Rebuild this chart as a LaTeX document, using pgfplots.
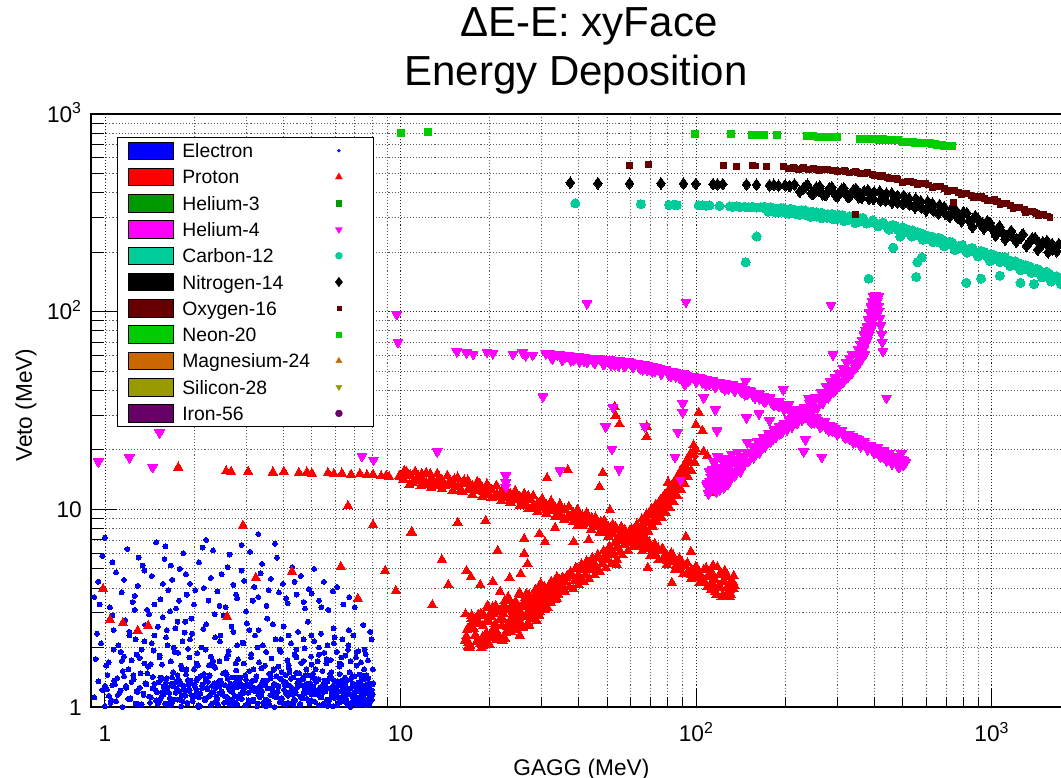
\documentclass[border=0pt]{standalone}
\usepackage{fontspec}
\setmainfont{Liberation Sans}
\usepackage{pgfplots}
\pgfplotsset{compat=1.18}
\usetikzlibrary{plotmarks}
\definecolor{cEle}{RGB}{0,0,255}
\definecolor{cPro}{RGB}{255,0,0}
\definecolor{cHeT}{RGB}{0,153,0}
\definecolor{cHeF}{RGB}{255,0,255}
\definecolor{cC}{RGB}{0,204,153}
\definecolor{cN}{RGB}{0,0,0}
\definecolor{cO}{RGB}{102,0,0}
\definecolor{cNe}{RGB}{0,204,0}
\definecolor{cMg}{RGB}{204,102,0}
\definecolor{cSi}{RGB}{153,153,0}
\definecolor{cFe}{RGB}{102,0,102}
\newcommand{\legmark}[4]{%
  \addlegendimage{legend image code/.code={%
    \draw[black,line width=0.6pt,fill=#1] (0pt,-6.6pt) rectangle (33.75pt,6.6pt);
    \begin{scope}[overlay,shift={(158.25pt,0pt)},rotate=#4]
      \pgfsetfillcolor{#1}\pgfsetstrokecolor{#1}\pgfsetlinewidth{0.3pt}%
      \pgfsetplotmarksize{#3}\pgfuseplotmark{#2}%
    \end{scope}}}}
\begin{document}
\begin{tikzpicture}
\useasboundingbox (0pt,0pt) rectangle (795.75pt,583.5pt);
\node[anchor=base,font=\fontsize{31.5}{36}\selectfont,inner sep=0pt] at (441.75pt,555.75pt) {ΔE-E: xyFace};
\node[anchor=base,font=\fontsize{31.5}{36}\selectfont,inner sep=0pt] at (432pt,519pt) {Energy Deposition};
\begin{axis}[
 at={(68.25pt,53.25pt)}, anchor=south west,
 scale only axis, width=729.75pt, height=444.75pt,
 xmode=log, ymode=log,
 xmin=0.897, xmax=1755, ymin=1, ymax=1000,
 xtick={1,10,100,1000}, xticklabels={1,10,10\textsuperscript{2},10\textsuperscript{3}},
 ytick={1,10,100,1000}, yticklabels={1,10,10\textsuperscript{2},10\textsuperscript{3}},
 minor xtick={2,3,4,5,6,7,8,9,20,30,40,50,60,70,80,90,200,300,400,500,600,700,800,900},
 minor ytick={2,3,4,5,6,7,8,9,20,30,40,50,60,70,80,90,200,300,400,500,600,700,800,900},
 tick pos=left, tick align=inside,
 major tick length=14.25pt, minor tick length=7.5pt,
 every major y tick/.append style={/pgfplots/major tick length=20pt},
 every minor y tick/.append style={/pgfplots/minor tick length=9.75pt},
 grid=both,
 major grid style={black!85, dash pattern=on 0.8pt off 1.5pt, line width=0.6pt},
 minor grid style={black!65, dash pattern=on 0.8pt off 1.5pt, line width=0.6pt},
 axis line style={black, line width=0.8pt},
 tick style={black, line width=0.7pt},
 ticklabel style={font=\fontsize{17}{20}\selectfont},
 xticklabel style={inner sep=0pt, text height=12.2pt, text depth=0pt, anchor=north, yshift=-13.5pt},
 yticklabel style={inner sep=0pt, text height=12.2pt, text depth=0pt, anchor=east, xshift=-6.75pt},
 xlabel={GAGG (MeV)}, ylabel={Veto (MeV)},
 label style={font=\fontsize{17}{20}\selectfont},
 xlabel style={at={(axis description cs:0.504,-0.1147)}, anchor=base},
 ylabel style={at={(axis description cs:-0.0668,0.509)}, anchor=center},
 legend cell align=left,
 legend style={at={(axis description cs:0.0267,0.9612)}, anchor=north west,
   draw=black, line width=0.8pt, fill=white,
   inner xsep=7.5pt, inner ysep=3pt, row sep=5.9pt, column sep=6.75pt,
   font=\fontsize{14.5}{17}\selectfont,
   nodes={inner xsep=0pt, inner ysep=0pt, text height=11.85pt, text depth=1.45pt}},
]
\legmark{cEle}{*}{1.1pt}{0}\addlegendentry{\makebox[135.75pt][l]{Electron}}
\legmark{cPro}{triangle*}{3pt}{0}\addlegendentry{\makebox[135.75pt][l]{Proton}}
\legmark{cHeT}{square*}{2pt}{0}\addlegendentry{\makebox[135.75pt][l]{Helium-3}}
\legmark{cHeF}{triangle*}{3pt}{180}\addlegendentry{\makebox[135.75pt][l]{Helium-4}}
\legmark{cC}{*}{2.6pt}{0}\addlegendentry{\makebox[135.75pt][l]{Carbon-12}}
\legmark{cN}{diamond*}{3.6pt}{0}\addlegendentry{\makebox[135.75pt][l]{Nitrogen-14}}
\legmark{cO}{square*}{1.6pt}{0}\addlegendentry{\makebox[135.75pt][l]{Oxygen-16}}
\legmark{cNe}{square*}{2pt}{0}\addlegendentry{\makebox[135.75pt][l]{Neon-20}}
\legmark{cMg}{triangle*}{2.6pt}{0}\addlegendentry{\makebox[135.75pt][l]{Magnesium-24}}
\legmark{cSi}{triangle*}{2.6pt}{180}\addlegendentry{\makebox[135.75pt][l]{Silicon-28}}
\legmark{cFe}{*}{2.6pt}{0}\addlegendentry{\makebox[135.75pt][l]{Iron-56}}

% Electron
\addplot[forget plot, only marks, mark=*, mark size=1.85pt, mark options={draw=cEle, fill=cEle, line width=0pt}] coordinates {
(0.92,1.12) (0.95,1.35) (0.98,1.22) (1.02,1.45) (1.05,1.08) (1.08,1.30) (1.12,1.18) (1.15,1.52) (1.18,1.25) (1.22,1.10) (1.25,1.38) (1.28,1.20) (1.32,1.48) (1.35,1.15) (1.38,1.30) (1.42,1.05) (1.45,1.42) (1.48,1.22) (1.52,1.33) (1.55,1.12) (1.58,1.27) (1.62,1.40) (1.65,1.18) (1.68,1.31) (1.72,1.09) (1.75,1.24) (1.78,1.37) (1.82,1.15) (1.85,1.28) (1.88,1.46) (1.92,1.21) (1.95,1.33) (1.98,1.11) (2.02,1.26) (2.06,1.39) (2.10,1.17) (2.14,1.30) (2.18,1.08) (2.22,1.23) (2.26,1.44) (2.30,1.19) (2.34,1.32) (2.38,1.13) (2.42,1.27) (2.46,1.36) (2.50,1.16) (2.55,1.29) (2.60,1.06) (2.65,1.21) (2.70,1.41) (2.75,1.14) (2.80,1.26) (2.85,1.34) (2.90,1.10) (2.95,1.23) (3.00,1.38) (3.05,1.18) (3.10,1.30) (3.15,1.07) (3.20,1.25) (3.25,1.43) (3.30,1.15) (3.35,1.28) (3.40,1.20) (3.45,1.35) (3.50,1.09) (3.56,1.24) (3.62,1.47) (3.68,1.17) (3.74,1.31) (3.80,1.12) (3.86,1.26) (3.92,1.39) (3.98,1.05) (4.04,1.22) (4.10,1.33) (4.16,1.14) (4.22,1.28) (4.28,1.19) (4.34,1.41) (4.40,1.08) (4.46,1.25) (4.52,1.36) (4.58,1.13) (4.64,1.29) (4.70,1.18) (4.76,1.45) (4.82,1.10) (4.88,1.23) (4.94,1.32) (5.00,1.16) (5.07,1.27) (5.14,1.06) (5.21,1.21) (5.28,1.38) (5.35,1.12) (5.42,1.26) (5.49,1.19) (5.56,1.33) (5.63,1.09) (5.70,1.24) (5.77,1.42) (5.84,1.15) (5.91,1.28) (5.98,1.11) (6.05,1.22) (6.12,1.35) (6.19,1.07) (6.26,1.20) (6.33,1.30) (6.40,1.14) (6.47,1.26) (6.54,1.10) (6.61,1.37) (6.68,1.17) (6.75,1.24) (6.82,1.05) (6.89,1.31) (6.96,1.19) (7.03,1.12) (7.10,1.27) (7.17,1.21) (7.24,1.08) (7.31,1.34) (7.38,1.16) (7.45,1.23) (7.52,1.11) (7.59,1.29) (7.66,1.18) (7.73,1.06) (7.80,1.25) (7.87,1.14) (7.94,1.20) (8.00,1.09) (8.05,1.30)
(1.00,1.28) (1.10,1.40) (1.20,1.55) (1.30,1.03) (1.40,1.60) (1.50,1.19) (1.60,1.04) (1.70,1.50) (1.80,1.32) (1.90,1.04) (2.00,1.55) (2.08,1.12) (2.20,1.36) (2.28,1.02) (2.36,1.58) (2.48,1.20) (2.58,1.46) (2.68,1.03) (2.78,1.53) (2.88,1.31) (2.98,1.02) (3.08,1.52) (3.18,1.36) (3.28,1.04) (3.38,1.57) (3.48,1.29) (3.60,1.02) (3.72,1.54) (3.84,1.19) (3.96,1.50) (4.08,1.03) (4.20,1.56) (4.32,1.16) (4.44,1.49) (4.56,1.03) (4.68,1.38) (4.80,1.55) (4.92,1.04) (5.05,1.47) (5.18,1.34) (5.31,1.02) (5.44,1.52) (5.57,1.20) (5.70,1.04) (5.83,1.50) (5.96,1.36) (6.09,1.02) (6.22,1.47) (6.35,1.22) (6.48,1.41) (6.61,1.03) (6.74,1.50) (6.87,1.13) (7.00,1.43) (7.13,1.03) (7.26,1.46) (7.39,1.28) (7.52,1.38) (7.65,1.02) (7.78,1.40) (7.91,1.31) (8.04,1.16)
(1.51,1.04) (1.56,1.19) (1.61,1.33) (1.66,1.11) (1.71,1.27) (1.76,1.45) (1.81,1.08) (1.86,1.22) (1.91,1.37) (1.96,1.15) (2.01,1.30) (2.07,1.02) (2.13,1.24) (2.19,1.40) (2.25,1.13) (2.31,1.28) (2.37,1.06) (2.43,1.35) (2.49,1.17) (2.56,1.50) (2.63,1.04) (2.70,1.19) (2.77,1.33) (2.84,1.11) (2.91,1.27) (2.98,1.45) (3.06,1.08) (3.14,1.22) (3.22,1.37) (3.30,1.15) (3.38,1.30) (3.46,1.02) (3.55,1.24) (3.64,1.40) (3.73,1.13) (3.82,1.28) (3.91,1.06) (4.01,1.35) (4.11,1.17) (4.21,1.50) (4.31,1.04) (4.42,1.19) (4.53,1.33) (4.64,1.11) (4.75,1.27) (4.86,1.45) (4.98,1.08) (5.10,1.22) (5.22,1.37) (5.34,1.15) (5.47,1.30) (5.60,1.02) (5.73,1.24) (5.86,1.40) (6.00,1.13) (6.14,1.28) (6.28,1.06) (6.42,1.35) (6.57,1.17) (6.72,1.50) (6.87,1.04) (7.02,1.19) (7.18,1.33) (7.34,1.11) (7.50,1.27) (7.66,1.45) (7.82,1.08) (7.98,1.22)
(1.535,1.09) (1.585,1.26) (1.635,1.03) (1.685,1.41) (1.735,1.18) (1.785,1.31) (1.835,1.07) (1.885,1.55) (1.935,1.21) (1.985,1.12) (2.04,1.36) (2.10,1.01) (2.16,1.47) (2.22,1.25) (2.28,1.16) (2.34,1.60) (2.40,1.10) (2.46,1.29) (2.53,1.05) (2.60,1.39) (2.66,1.09) (2.73,1.26) (2.80,1.03) (2.87,1.41) (2.94,1.18) (3.02,1.31) (3.10,1.07) (3.18,1.55) (3.26,1.21) (3.34,1.12) (3.42,1.36) (3.50,1.01) (3.59,1.47) (3.68,1.25) (3.77,1.16) (3.86,1.60) (3.96,1.10) (4.06,1.29) (4.16,1.05) (4.26,1.39) (4.36,1.09) (4.47,1.26) (4.58,1.03) (4.69,1.41) (4.80,1.18) (4.92,1.31) (5.04,1.07) (5.16,1.55) (5.28,1.21) (5.40,1.12) (5.53,1.36) (5.66,1.01) (5.79,1.47) (5.93,1.25) (6.07,1.16) (6.21,1.60) (6.35,1.10) (6.50,1.29) (6.64,1.05) (6.80,1.39) (6.95,1.09) (7.10,1.26) (7.26,1.03) (7.42,1.41) (7.58,1.18) (7.74,1.31) (7.90,1.07) (8.06,1.55)
(1.00,1.01) (1.03,1.14) (1.06,1.29) (1.09,1.07) (1.13,1.21) (1.16,1.43) (1.20,1.10) (1.23,1.34) (1.27,1.04) (1.31,1.25) (1.35,1.17) (1.39,1.48) (1.43,1.12) (1.47,1.31) (1.52,1.06) (1.56,1.39) (1.61,1.19) (1.66,1.02) (1.71,1.27) (1.76,1.09) (1.81,1.01) (1.87,1.14) (1.92,1.29) (1.98,1.07) (2.04,1.21) (2.10,1.43) (2.17,1.10) (2.23,1.34) (2.30,1.04) (2.37,1.25) (2.44,1.17) (2.51,1.48) (2.59,1.12) (2.66,1.31) (2.74,1.06) (2.83,1.39) (2.91,1.19) (3.00,1.02) (3.09,1.27) (3.18,1.09) (3.28,1.01) (3.38,1.14) (3.48,1.29) (3.58,1.07) (3.69,1.21) (3.80,1.43) (3.91,1.10) (4.03,1.34) (4.15,1.04) (4.28,1.25) (4.40,1.17) (4.54,1.48) (4.67,1.12) (4.81,1.31) (4.96,1.06) (5.11,1.39) (5.26,1.19) (5.42,1.02) (5.58,1.27) (5.75,1.09) (5.92,1.01) (6.10,1.14) (6.28,1.29) (6.47,1.07) (6.66,1.21) (6.86,1.43) (7.07,1.10) (7.28,1.34) (7.50,1.04) (7.72,1.25) (7.95,1.17)
(1.015,1.23) (1.045,1.05) (1.075,1.36) (1.105,1.15) (1.147,1.00) (1.177,1.28) (1.218,1.11) (1.248,1.45) (1.289,1.19) (1.33,1.03) (1.37,1.32) (1.41,1.13) (1.45,1.24) (1.49,1.08) (1.54,1.41) (1.58,1.16) (1.63,1.26) (1.68,1.04) (1.74,1.35) (1.79,1.20) (1.84,1.23) (1.90,1.05) (1.95,1.36) (2.01,1.15) (2.07,1.00) (2.13,1.28) (2.20,1.11) (2.26,1.45) (2.33,1.19) (2.41,1.03) (2.48,1.32) (2.55,1.13) (2.63,1.24) (2.70,1.08) (2.78,1.41) (2.87,1.16) (2.95,1.26) (3.05,1.04) (3.14,1.35) (3.23,1.20) (3.33,1.23) (3.43,1.05) (3.53,1.36) (3.63,1.15) (3.75,1.00) (3.86,1.28) (3.97,1.11) (4.09,1.45) (4.21,1.19) (4.34,1.03) (4.47,1.32) (4.61,1.13) (4.74,1.24) (4.88,1.08) (5.03,1.41) (5.19,1.16) (5.34,1.26) (5.50,1.04) (5.66,1.35) (5.84,1.20) (6.01,1.23) (6.19,1.05) (6.37,1.36) (6.57,1.15) (6.76,1.00) (6.96,1.28) (7.18,1.11) (7.39,1.45) (7.61,1.19) (7.84,1.03) (8.07,1.32)
(1.01,1.62) (1.07,1.95) (1.14,1.71) (1.21,2.30) (1.28,1.84) (1.36,1.66) (1.44,2.10) (1.53,1.78) (1.62,2.45) (1.72,1.90) (1.82,1.55) (1.94,2.20) (2.06,1.62) (2.19,1.95) (2.32,1.71) (2.46,2.30) (2.61,1.84) (2.77,1.66) (2.94,2.10) (3.12,1.78) (3.31,2.45) (3.51,1.90) (3.72,1.55) (3.94,2.20) (4.18,1.62) (4.44,1.95) (4.70,1.71) (4.99,2.30) (5.29,1.84) (5.61,1.66) (5.95,2.10) (6.31,1.78) (6.69,2.45) (7.10,1.90) (7.53,1.55) (7.98,2.20)
(0.93,1.75) (0.97,2.10) (1.03,1.68) (1.07,2.45) (1.13,1.90) (1.17,2.75) (1.23,1.72) (1.27,2.20) (1.33,1.95) (1.37,2.60) (1.43,1.65) (1.47,2.30) (1.53,1.82) (1.57,2.85) (1.63,2.05) (1.67,1.70) (1.73,2.50) (1.77,1.88) (1.83,2.15) (1.87,2.70) (1.93,1.78) (1.97,2.35) (2.04,1.66) (2.12,2.00) (2.20,2.62) (2.28,1.80) (2.36,2.25) (2.44,1.70) (2.52,2.90) (2.62,1.92) (2.72,2.40) (2.82,1.74) (2.92,2.12) (3.02,2.65) (3.12,1.85) (3.22,2.30) (3.32,1.68) (3.42,2.05) (3.54,2.80) (3.66,1.76) (3.78,2.20) (3.90,1.95) (4.02,2.55) (4.14,1.72) (4.26,2.10) (4.38,1.84) (4.50,2.40) (4.62,1.67) (4.74,1.98) (4.86,2.70) (4.98,1.80) (5.10,2.15) (5.24,1.70) (5.38,2.35) (5.52,1.88) (5.66,2.05) (5.80,1.73) (5.94,2.50) (6.08,1.90) (6.22,1.66) (6.36,2.20) (6.50,1.82) (6.64,1.95) (6.78,1.70) (6.92,2.30) (7.06,1.78) (7.20,1.92) (7.34,1.68) (7.48,2.60) (7.62,1.85) (7.76,1.72) (7.90,2.40)
(0.94,2.35) (1.01,1.62) (1.06,2.90) (1.11,2.05) (1.16,1.80) (1.21,2.40) (1.26,3.10) (1.31,1.77) (1.36,2.15) (1.41,2.95) (1.46,1.93) (1.51,2.55) (1.56,1.64) (1.61,2.25) (1.66,3.05) (1.71,2.00) (1.76,2.70) (1.81,1.62) (1.86,2.38) (1.91,1.97) (1.96,2.80) (2.05,1.87) (2.15,2.48) (2.25,1.63) (2.35,2.95) (2.45,2.15) (2.58,1.76) (2.68,2.55) (2.80,2.05) (2.95,1.66) (3.08,2.45) (3.28,2.00) (3.48,1.62) (3.70,2.62) (3.94,1.90) (4.18,2.30) (4.44,1.78) (4.70,2.20) (5.00,1.64) (5.30,2.00) (5.62,1.75) (5.98,2.25) (6.30,1.64) (6.66,2.05) (7.10,1.62) (7.56,1.95)
(0.92,3.60) (0.95,4.30) (0.98,5.80) (1.00,7.20) (1.04,3.20) (1.09,4.80) (1.14,3.80) (1.19,6.30) (1.24,3.40) (1.29,4.10) (1.34,5.20) (1.39,3.10) (1.44,4.60) (1.49,6.80) (1.54,3.50) (1.59,5.60) (1.64,3.90) (1.69,4.40) (1.74,3.15) (1.79,5.00) (1.84,6.00) (1.89,3.70) (1.94,4.20) (2.00,3.30) (2.08,5.40) (2.16,4.00) (2.24,3.45) (2.32,6.20) (2.40,3.85) (2.48,4.70) (2.56,3.20) (2.64,5.90) (2.72,4.15) (2.80,3.55) (2.90,4.90) (3.00,3.05) (3.10,6.10) (3.20,4.05) (3.30,3.60) (3.40,5.30) (3.52,3.25) (3.64,4.45) (3.76,6.70) (3.88,3.80) (4.00,4.20) (4.15,3.35) (4.30,5.10) (4.45,3.70) (4.60,4.60) (4.75,3.15) (4.90,3.95) (5.10,5.00) (5.30,3.45) (5.50,4.30) (5.70,3.10) (5.90,3.85) (6.10,4.05) (6.40,3.30) (6.70,3.60) (7.00,3.20) (2.20,7.00) (1.60,6.50) (2.90,6.60) (3.30,7.50) (1.30,5.70)
(0.96,3.30) (1.06,5.40) (1.16,4.40) (1.26,3.65) (1.36,4.90) (1.47,3.30) (1.57,4.20) (1.67,5.20) (1.78,3.45) (1.88,4.70) (2.02,3.90) (2.14,6.40) (2.28,4.50) (2.44,3.25) (2.60,5.10) (2.78,3.70) (2.96,4.35) (3.16,3.45) (3.36,4.75) (3.58,3.90) (3.82,5.70) (4.10,3.55) (4.38,4.30) (4.70,3.40) (5.00,3.75) (5.40,3.20)
};
% Proton
\addplot[forget plot, only marks, mark=triangle*, mark size=4.1pt, mark options={draw=cPro, fill=cPro, line width=0pt}] coordinates {
(0.985,3.96) (1.04,2.76) (1.15,2.66) (1.29,2.43) (1.40,2.57) (2.59,2.86) (2.93,8.27) (3.24,4.50) (4.29,4.83) (6.28,5.12) (6.64,10.4) (7.17,3.53) (8.07,8.35) (8.87,4.88) (9.64,3.87) (10.9,7.7) (2.25,27.5)
(1.77,16.3) (2.57,15.6) (2.67,15.5) (3.05,15.5) (3.70,15.4) (4.03,15.5) (4.53,15.3) (4.82,15.4) (5.01,15.2) (5.68,15.3) (5.95,15.1) (6.33,15.2) (6.80,15.0) (7.29,15.1) (7.70,14.9) (8.07,15.0) (8.59,14.7) (8.93,14.8) (9.14,14.6) (9.88,14.7)
(10.9,7.6) (13.8,5.56) (14.5,4.15) (15.6,8.56) (16.7,4.88) (17.3,4.55) (18.6,4.15) (19.4,8.76) (20.5,4.30) (21.3,6.17) (21.7,3.83) (23.4,4.50) (25.5,4.71) (26.2,7.10) (26.2,5.96) (26.9,5.30) (29.5,7.53) (30.8,6.85) (31.3,14.4) (33.3,8.07) (36.8,15.8) (38.5,6.85) (39.7,8.25) (43.3,7.0) (47.1,13.0) (48.3,15.3) (51.1,9.9) (53.9,5.24) (53.4,29.8) (53,33) (55,27) (68,23.3) (68,26.3) (68.6,5.06) (80.3,13.7) (82.8,4.25) (92.3,7.27) (96.0,6.1) (98.2,19.8) (99.8,26.8) (102,30.9) (105,25.0) (106,19.6) (109,18.7) (111,12.1) (117,3.7) (12.8,3.28)
(10.0,14.6) (10.5,15.4) (11.0,13.7) (11.5,14.7) (12.0,13.8) (12.6,15.1) (13.2,13.1) (13.8,14.1) (14.5,13.4) (15.2,14.2) (16.0,12.6) (16.8,13.5) (17.6,12.5) (18.5,13.5) (19.4,11.8) (20.3,12.6) (21.3,11.8) (22.3,12.5) (23.4,11.1) (24.5,11.8) (25.7,11.0) (27.0,11.7) (28.3,10.1) (29.7,10.7) (31.1,10.0) (32.6,10.6) (34.2,9.4) (35.9,10.0) (37.6,9.2) (39.4,9.8) (41.3,8.5) (43.3,8.9) (45.4,8.25) (47.6,8.65) (49.9,7.6) (52.3,8.0) (54.8,7.4) (57.4,7.85) (60.2,6.75) (63.1,7.1) (66.1,6.5) (69.3,6.8) (72.6,5.9) (76.1,6.2) (79.7,5.5) (83.5,5.85) (87.5,4.95) (91.7,5.2) (96.1,4.65) (100.7,5.05) (105.5,4.25) (110.5,4.7) (115.8,4.0) (121.3,4.65) (127.0,3.75) (133.0,4.3)
(10.2,14.1) (10.8,14.9) (11.3,14.3) (11.8,15.1) (12.3,13.3) (12.9,14.0) (13.5,14.5) (14.1,13.2) (14.8,13.7) (15.6,13.0) (16.4,14.0) (17.2,12.9) (18.0,13.0) (19.0,12.2) (19.9,13.0) (20.8,11.6) (21.8,12.0) (22.9,12.3) (24.0,11.3) (25.1,11.5) (26.4,10.6) (27.6,11.2) (29.0,10.5) (30.4,11.0) (31.8,9.8) (33.4,10.1) (35.0,10.2) (36.7,9.1) (38.5,9.4) (40.4,9.2) (42.3,8.6) (44.4,9.0) (46.5,8.2) (48.7,8.3) (51.1,7.6) (53.5,8.1) (56.1,7.35) (58.8,7.35) (61.6,7.4) (64.6,6.55) (67.7,6.7) (70.9,6.15) (74.3,6.35) (77.9,5.75) (81.6,5.75) (85.5,5.2) (89.6,5.4) (93.9,4.85) (98.4,4.95) (103.1,4.5) (108.0,5.05) (113.1,4.3) (118.5,4.0) (124.1,4.35) (130.0,3.9) (135.0,4.1) (125,4.9) (118,5.1) (128,4.55) (112,3.9) (131,3.7) (122,3.6) (114,5.2)
(10.3,15.7) (11.2,15.5) (12.2,15.3) (13.3,15.1) (14.4,14.8) (15.6,14.5) (16.9,14.0) (18.2,13.8) (19.6,13.4) (21.1,13.2) (22.7,12.8) (24.4,12.4) (26.2,12.0) (28.1,11.7) (30.1,11.3) (32.3,11.0) (34.6,10.6) (37.1,10.3) (39.8,9.9) (42.6,9.6) (45.6,9.1) (48.8,8.75) (52.2,8.4) (55.8,8.15) (59.6,7.8) (63.6,7.45) (67.9,7.05) (72.4,6.7) (77.2,6.3) (82.3,6.0) (87.7,5.65) (93.4,5.35) (99.5,5.1) (106,4.95) (113,4.8) (120,4.7) (127,4.65) (134,4.6)
(10.7,13.3) (11.7,13.1) (12.7,12.9) (13.8,12.7) (15.0,12.4) (16.2,12.2) (17.5,11.9) (18.9,11.6) (20.3,11.4) (21.9,11.0) (23.5,10.8) (25.3,10.4) (27.1,10.1) (29.1,9.75) (31.2,9.5) (33.4,9.2) (35.8,8.9) (38.4,8.65) (41.2,8.3) (44.1,7.9) (47.2,7.65) (50.5,7.3) (54.0,7.1) (57.7,6.8) (61.6,6.5) (65.7,6.15) (70.1,5.85) (74.7,5.55) (79.6,5.25) (84.8,4.95) (90.3,4.7) (96.2,4.45) (102.5,4.25) (109,4.05) (116,3.85) (123,3.7) (130,3.6)
(10.7,14.75) (11.7,14.55) (12.7,14.35) (13.8,14.1) (15.0,13.8) (16.2,13.5) (17.5,13.15) (18.9,12.85) (20.3,12.6) (21.9,12.25) (23.5,11.95) (25.3,11.6) (27.1,11.2) (29.1,10.8) (31.2,10.5) (33.4,10.2) (35.8,9.9) (38.4,9.6) (41.2,9.25) (44.1,8.75) (47.2,8.45) (50.5,8.1) (54.0,7.85) (57.7,7.55) (61.6,7.2) (65.7,6.85) (70.1,6.5) (74.7,6.15) (79.6,5.8) (84.8,5.5) (90.3,5.2) (96.2,4.95) (102.5,4.75) (109,4.55) (116,4.4) (123,4.3) (130,4.2)
(10.3,14.05) (11.2,13.9) (12.2,13.7) (13.3,13.55) (14.4,13.3) (15.6,13.0) (16.9,12.6) (18.2,12.35) (19.6,12.1) (21.1,11.85) (22.7,11.5) (24.4,11.15) (26.2,10.8) (28.1,10.5) (30.1,10.15) (32.3,9.85) (34.6,9.55) (37.1,9.25) (39.8,8.9) (42.6,8.6) (45.6,8.2) (48.8,7.85) (52.2,7.55) (55.8,7.3) (59.6,7.0) (63.6,6.7) (67.9,6.35) (72.4,6.0) (77.2,5.65) (82.3,5.4) (87.7,5.1) (93.4,4.8) (99.5,4.58) (106,4.4) (113,4.2) (120,4.1) (127,4.0) (134,3.95)
(16.5,2.16) (16.8,2.47) (17.2,2.04) (17.5,2.69) (17.9,2.32) (18.3,2.93) (18.6,2.08) (19.0,2.57) (19.3,2.30) (19.7,3.26) (20.0,2.07) (20.3,2.86) (20.7,2.50) (21.0,3.12) (21.4,2.32) (21.8,2.81) (22.1,2.17) (22.5,3.44) (22.9,2.59) (23.3,3.10) (23.7,2.39) (24.1,2.94) (24.5,3.42) (24.9,2.63) (25.3,2.30) (25.7,3.22) (26.1,2.86) (26.6,3.73) (27.0,2.67) (27.5,3.28) (27.9,2.93) (28.4,3.73) (28.9,2.73) (29.4,3.35) (29.9,3.82) (30.4,3.14) (30.9,3.74) (31.5,3.16) (32.0,4.07) (32.6,3.58) (33.2,3.96) (33.8,3.53) (34.4,4.32) (35.0,3.87) (35.6,4.36)
(16.7,2.28) (17.0,2.12) (17.4,2.91) (17.7,2.48) (18.1,2.15) (18.4,2.65) (18.8,2.0) (19.2,2.90) (19.5,2.37) (19.9,2.72) (20.2,2.24) (20.5,3.20) (20.9,2.64) (21.2,2.20) (21.6,3.06) (22.0,2.57) (22.3,2.95) (22.7,2.38) (23.1,3.60) (23.5,2.77) (23.9,3.26) (24.3,2.54) (24.7,3.08) (25.1,2.82) (25.5,3.71) (25.9,2.54) (26.3,3.39) (26.8,2.99) (27.2,3.68) (27.7,2.79) (28.1,3.40) (28.6,3.10) (29.1,3.97) (29.6,3.03) (30.1,3.54) (30.6,4.04) (31.2,3.41) (31.7,3.73) (32.3,3.36) (32.9,4.26) (33.5,3.80) (34.1,3.68) (34.7,4.12) (35.3,4.52) (35.9,3.85)
(16.6,2.95) (17.1,2.0) (17.6,2.70) (18.2,2.15) (18.7,2.96) (19.3,2.10) (19.8,2.71) (20.4,2.43) (21.0,3.25) (21.7,2.19) (22.3,3.22) (23.0,2.46) (23.7,3.19) (24.4,2.66) (25.2,3.76) (26.0,2.52) (26.8,3.23) (27.6,3.07) (28.5,3.90) (29.4,2.91) (30.3,3.82) (31.3,3.36) (32.3,4.30) (33.3,3.47) (34.4,4.40) (35.5,3.85) (36.6,4.62)
(16.9,2.02) (17.4,2.80) (17.9,2.30) (18.5,2.65) (19.0,2.03) (19.6,3.16) (20.1,2.34) (20.7,2.97) (21.4,2.27) (22.0,2.84) (22.6,2.21) (23.3,3.44) (24.0,2.87) (24.8,3.30) (25.6,2.64) (26.4,3.58) (27.2,2.59) (28.0,3.52) (28.9,3.13) (29.8,4.22) (30.8,3.12) (31.8,3.89) (32.8,3.50) (33.8,4.55) (34.9,3.90) (36.0,4.28)
(17.3,2.55) (18.0,2.80) (18.9,2.25) (19.5,2.70) (20.2,3.00) (20.9,2.35) (21.6,2.75) (22.4,3.30) (23.2,2.65) (24.0,3.05) (24.8,2.45) (25.7,2.95) (26.6,3.45) (27.4,2.85) (28.3,3.15) (29.2,3.60) (30.1,3.25) (31.0,3.95) (32.0,3.50) (33.0,4.05) (34.0,3.75) (35.0,4.20) (19.0,2.20) (21.0,2.45) (23.0,2.55) (25.0,2.75) (27.0,3.0) (29.0,3.15) (31.0,3.40) (33.0,3.65) (22.0,3.05) (24.0,3.30) (26.0,3.35) (28.0,3.55) (30.0,3.70) (32.0,3.90)
(36.5,4.52) (37.2,4.05) (38.0,4.62) (38.8,4.36) (39.6,5.0) (40.4,4.45) (41.3,4.93) (42.2,4.68) (43.1,5.37) (44.0,4.95) (45.0,5.41) (46.0,4.98) (47.0,5.67) (48.1,5.32) (49.2,5.85) (50.3,5.53) (51.5,6.34) (52.7,5.95) (53.9,6.42) (55.1,6.07) (56.3,6.96) (57.5,6.6) (58.7,7.25) (59.9,6.78) (61.0,7.52) (62.2,7.2) (63.4,8.09) (64.6,7.68) (65.8,8.39) (67.0,7.98) (68.2,8.99) (69.4,8.52) (70.6,9.39) (71.8,8.89) (73.0,10.1) (74.2,9.54) (75.4,10.4) (76.6,9.98) (77.8,11.1) (79.0,10.6) (80.2,11.6) (81.4,11.2) (82.6,12.6) (83.8,11.9) (85.0,13.3) (86.2,12.9) (87.4,14.2) (88.6,13.6) (89.8,15.3) (91.0,14.8) (92.2,16.4) (93.4,15.9) (94.6,17.3) (95.8,17.3) (97.0,18.9) (98.2,19.0) (99.4,20.3)
(40.0,4.68) (42.7,5.03) (45.5,5.2) (48.6,5.6) (51.0,5.9) (54.5,6.38) (58.1,6.88) (61.6,7.4) (65.2,8.03) (68.8,8.76) (72.4,9.48) (76.0,10.25) (79.6,11.1) (83.2,12.2) (86.8,13.55) (90.4,15.0)
(37.6,4.83) (39.2,5.06) (40.9,5.27) (42.6,5.46) (44.5,5.67) (46.5,5.89) (48.6,6.16) (50.8,6.47) (53.1,6.80) (55.5,7.16) (58.0,7.57) (60.5,7.95) (63.0,8.39) (65.5,8.91) (68.0,9.46) (70.5,10.0) (73.0,10.56) (75.5,11.1) (78.0,11.8) (80.5,12.5) (83.0,13.3) (85.5,14.3) (88.0,15.4) (90.5,16.5) (93.0,17.8) (95.5,19.1) (98.0,21.1)
(38.4,3.95) (40.0,4.14) (41.7,4.31) (43.4,4.46) (45.3,4.64) (47.3,4.82) (49.4,5.04) (51.6,5.29) (53.9,5.56) (56.3,5.86) (58.8,6.19) (61.3,6.51) (63.8,6.87) (66.3,7.29) (68.8,7.74) (71.3,8.19) (73.8,8.64) (76.3,9.09) (78.8,9.65) (81.3,10.2) (83.8,10.9) (86.3,11.7) (88.8,12.6) (91.3,13.5) (93.8,14.6) (96.3,15.7) (98.8,17.3)
};
% Helium-4
\addplot[forget plot, only marks, mark=triangle*, mark size=4.2pt, mark options={rotate=180, draw=cHeF, fill=cHeF, line width=0pt}] coordinates {
(0.95,17.4) (1.21,18.3) (1.45,16.3) (1.53,24.4) (7.4,18.6) (8.1,17.8) (9.7,97) (9.8,70) (13.3,19.6) (22.7,14.8) (22.7,13.7) (22.7,13.0) (30.3,37.2) (34.6,15.7) (42.7,110) (49.4,26.2) (52.3,32.8) (51.9,20.2) (54.8,15.9) (67,26.2) (84.8,18.4) (86.6,24.6) (88.6,14.1) (90,34.3) (90,30.9) (91.5,42.7) (92.3,112) (106,36.7) (116,31.9) (117.6,25.0) (147,44.4) (148,29.1) (149,21.8) (163,30.5) (177,28.1) (197,40.3) (234,22.5) (231,19.6) (240,36.6) (266,18.4) (286,108) (290,60.6) (440,36.6) (413,106)
(15.5,62.9) (16.7,62) (17.6,61) (19.6,62.5) (20.5,61.5) (24.0,61) (25.9,62) (28.0,60.5) (26.5,60)
(31,61.5) (32.5,58.3) (34,60.5) (35.5,57.8) (37,59.7) (38.5,57.0) (40,59.5) (41.7,56.5) (43.4,58.4) (45,55.6) (47,57.8) (49,54.6) (51,57.2) (53,53.8) (55,56.6) (57,53.2) (59,55.8) (61,52.3) (63.5,54.6) (66,51.0) (68.5,53.5) (71,49.7) (73.5,52.2) (76,48.6) (79,51.0) (82,47.2) (85,49.6) (88,46.0) (91,48.5) (94,44.8) (97,47.2) (100,44.0) (104,46.0) (108,42.6) (112,44.8) (116,41.4) (120,43.9) (125,40.4) (130,42.7) (135,39.6) (140,41.3) (146,38.1) (152,39.9) (158,36.6) (164,38.4) (170,35.0) (177,37.0) (184,33.6) (191,35.2) (198,32.0) (205,33.8) (213,30.3) (221,32.0) (229,28.7) (237,30.5) (245,27.4) (254,29.1) (263,26.0) (272,27.8) (281,25.0) (290,26.4) (300,23.9) (310,25.2) (320,22.9) (330,24.0) (340,21.8) (350,23.0) (360,20.8) (370,22.1) (380,20.0) (390,21.1) (400,19.2) (410,20.5) (420,18.4) (430,19.8) (440,17.6) (450,19.2) (460,17.0) (470,18.6) (480,16.6) (490,18.0) (500,16.8) (505,17.8) (495,19.2) (485,16.3) (510,17.2)
(33,59.6) (36,58.9) (39,58.1) (42,57.4) (46,56.8) (52,55.8) (58,54.6) (64,52.8) (70,51.2) (77,49.8) (86,48.1) (95,46.4) (105,44.8) (118,43.0) (132,41.5) (150,38.9) (168,36.3) (188,34.0) (209,31.5) (233,29.3) (258,27.6) (285,25.6) (315,23.8) (345,22.2) (375,20.9) (405,19.7) (435,18.6) (465,17.8)
(32,61.3) (34.5,60.7) (37,60.0) (39.5,59.3) (42,58.8) (44.5,58.3) (47.5,57.7) (50.5,57.1) (53.5,56.7) (56.5,56.2) (60,55.6) (63.5,54.8) (67,53.9) (71,52.9) (75,52.0) (79,51.0) (83.5,50.0) (88,48.8) (93,47.9) (98,47.3) (103,46.6) (108.5,45.6) (114,44.8) (120,44.0) (126,43.3) (132.5,42.7) (139,41.8) (146,40.7) (153,39.7) (161,38.5) (169,37.5) (177,36.4) (186,35.2) (195,34.1) (204,33.2) (214,32.2) (224,31.2) (235,30.1) (246,29.3) (258,28.3) (270,27.4) (283,26.6) (296,25.8) (310,24.9) (324,24.1) (339,23.3) (354,22.6) (370,21.7) (386,21.1) (403,20.5) (420,19.8) (438,19.2) (456,18.5) (475,18.1) (494,17.9)
(32.6,57.7) (35.2,57.1) (37.7,56.6) (40.3,55.9) (42.8,55.4) (45.4,54.9) (48.5,54.3) (51.5,53.7) (54.6,53.4) (57.6,53.0) (61.2,52.4) (64.8,51.6) (68.3,50.7) (72.4,49.9) (76.5,49.0) (80.6,48.0) (85.2,47.0) (89.8,46.0) (94.9,45.1) (100,44.5) (105,43.8) (110.7,43.0) (116,42.2) (122,41.4) (128.5,40.7) (135,40.3) (142,39.4) (149,38.3) (156,37.3) (164,36.3) (172,35.3) (181,34.2) (190,33.2) (199,32.1) (208,31.2) (218,30.4) (228,29.4) (240,28.3) (251,27.5) (263,26.7) (275,25.8) (289,25.0) (302,24.3) (316,23.5) (330,22.7) (346,21.9) (361,21.2) (377,20.5) (394,19.9) (411,19.3) (428,18.6) (447,18.0) (465,17.5) (485,17.1) (504,16.9)
(112,12.5) (113,13.8) (114,15.2) (116,12.9) (118,14.5) (119,16.3) (121,13.6) (123,15.5) (125,14.2) (127,16.6) (129,15.0) (131,17.3) (133,15.6) (136,16.9) (139,18.0) (142,16.8) (145,18.6) (148,17.5) (152,19.4) (156,18.8) (160,20.6) (164,20.0) (168,22.0) (172,21.4) (177,23.5) (182,22.8) (187,24.9) (192,24.2) (197,26.5) (203,25.9) (209,28.3) (215,27.6) (221,30.0) (227,29.3) (233,31.9) (240,31.1) (247,33.8) (254,33.0) (261,36.0) (268,35.2) (275,38.5) (282,37.6) (289,41.2) (296,40.4) (303,44.2) (310,43.4) (317,47.5) (323,46.8) (329,50.8) (335,50.2) (341,55.0) (347,54.3) (352,59.5) (357,58.8) (362,64.5) (366,63.6) (370,70.0) (374,69.2) (378,76.0) (381,75.0) (384,82.0) (387,81.0) (390,89.0) (393,95.0) (396,102) (399,108) (402,115) (405,121)
(110,12.0) (111,13.2) (112,14.6) (113,16.0) (115,17.2) (117,12.3) (120,12.6) (122,17.8) (124,12.9) (126,18.2) (128,13.4) (130,14.0) (115,14.0) (119,14.9) (125,15.8) (132,19.0) (135,14.8) (138,19.5) (141,15.5) (109,13.5) (111,15.5) (114,17.5) (118,18.5)
(119.7,13.3) (122.9,13.8) (128.1,14.6) (133.4,15.4) (138.6,16.1) (143.9,16.6) (150.2,17.5) (156.5,18.3) (163.8,19.4) (171.2,20.8) (178.5,22.0) (185.9,23.2) (194.3,24.3) (202.7,25.3) (211,26.2) (219.5,27.3) (227.9,28.4) (236.3,29.4) (246.8,31.0) (257.3,32.7) (267.8,34.5) (279.3,36.8) (291.9,39.3) (304.5,41.9) (315,44.2) (325.5,46.5) (336,49.0) (346.5,52.0) (357,55.2) (365.4,58.4) (372.8,61.0) (368.2,64.5) (374.3,68.5) (379.4,72.0) (384.5,76.5) (389.6,80.5) (393.7,84) (397.8,91) (401.9,99) (406,106) (410,113) (414,119)
(108.3,13.3) (111.2,13.8) (115.9,14.6) (120.7,15.4) (125.4,16.1) (130.2,16.6) (135.9,17.5) (141.6,18.3) (148.2,19.4) (154.9,20.8) (161.5,22.0) (168.2,23.2) (175.8,24.3) (183.4,25.3) (191,26.2) (198.6,27.3) (206.2,28.4) (213.8,29.4) (223.3,31.0) (232.8,32.7) (242.3,34.5) (252.7,36.8) (264.1,39.3) (275.5,41.9) (285,44.2) (294.5,46.5) (304,49.0) (313.5,52.0) (323,55.2) (330.6,58.4) (337.3,61.0) (353.8,64.5) (359.7,68.5) (364.6,72.0) (369.5,76.5) (374.4,80.5) (378.3,84) (382.2,91) (386.1,99) (390,106) (394,113) (398,119)
(428,63) (426,70) (424,77) (421,85) (419,93) (416,101)
};
% Carbon-12
\addplot[forget plot, only marks, mark=*, mark size=3.4pt, mark options={draw=cC, fill=cC, line width=0pt}] coordinates {
(39,353) (65,350) (81,347) (84,348) (86,346) (102,345) (105,346) (108,344) (111,345) (120,343) (130,341) (133,339) (137,342) (141,338) (146,340) (150,337) (155,339) (160,336) (165,338)
(170,340) (175,321) (182,335) (190,318) (198,333) (206,313) (215,328) (224,309) (234,325) (244,302) (255,318) (266,297) (278,312) (290,294) (303,309) (316,287) (330,303) (345,281) (360,297) (377,279) (394,286) (412,270) (430,282) (450,260) (470,272) (490,253) (512,263) (536,240) (560,253) (585,231) (608,242) (632,225) (660,237) (690,214) (720,226) (750,205) (785,215) (824,199) (860,210) (900,190) (940,201) (985,180) (1030,192) (1066,178) (1110,189) (1155,170) (1200,180) (1250,162) (1300,172) (1360,157) (1420,165) (1480,149) (1530,159) (1590,142) (1650,151) (1714,138) (1755,146)
(172,330) (186,326) (203,323) (220,319) (240,313) (262,308) (285,304) (310,299) (340,292) (370,288) (405,280) (440,271) (480,263) (525,253) (575,242) (625,233) (680,225) (740,216) (800,209) (870,202) (950,194) (1030,187) (1120,179) (1220,171) (1320,165) (1430,158) (1550,151) (1680,145)
(178,338) (193,335) (209,332) (227,327) (246,321) (266,317) (288,312) (312,308) (338,302) (366,298) (396,290) (428,282) (463,275) (500,267) (540,258) (584,248) (630,239) (680,232) (735,224) (793,217) (855,210) (922,203) (995,196) (1073,188) (1157,181) (1248,175) (1345,169) (1450,162) (1563,156) (1685,149)
(185,318) (201,316) (217,312) (236,307) (256,303) (277,299) (300,294) (324,290) (352,284) (381,280) (412,274) (445,266) (482,259) (520,251) (562,243) (607,234) (655,225) (707,218) (764,210) (825,205) (889,198) (959,191) (1035,184) (1116,178) (1203,171) (1298,165) (1399,159) (1508,152) (1626,146) (1752,141)
(160,240) (147,178) (383,147) (464,211) (490,240) (555,150) (560,178) (580,188) (820,140) (920,147) (1065,152) (1250,140) (1390,138)
};
% Nitrogen-14
\addplot[forget plot, only marks, mark=diamond*, mark size=4.4pt, mark options={draw=cN, fill=cN, line width=0pt}] coordinates {
(37.5,449) (46.5,446) (59.5,445) (76,446) (90.6,444) (99.7,443) (114,442) (118,441) (123,442) (148,440) (160,439) (177,436) (183,438) (190,434) (200,436) (207,432)
(215,440) (224,405) (235,432) (245,397) (255,425) (268,392) (282,420) (296,388) (310,414) (325,383) (340,411) (355,379) (370,407) (385,372) (400,402) (420,365) (440,396) (460,357) (480,385) (500,350) (525,374) (550,337) (575,362) (600,325) (630,352) (660,314) (690,338) (720,302) (755,326) (790,287) (824,315) (860,268) (900,293) (940,264) (985,281) (1030,243) (1066,268) (1110,232) (1160,253) (1210,226) (1260,242) (1310,215) (1370,235) (1430,206) (1490,224) (1550,200) (1600,220) (1660,202)
(230,419) (260,411) (290,405) (320,400) (350,398) (390,390) (430,383) (470,374) (515,364) (565,352) (615,341) (670,329) (730,316) (790,305) (860,292) (930,280) (1000,267) (1080,254) (1160,245) (1250,236) (1350,228) (1450,221) (1550,216) (1650,211)
(238,438) (262,430) (288,425) (316,421) (347,418) (381,412) (418,405) (459,396) (504,385) (553,373) (607,360) (666,346) (731,332) (802,319) (880,304) (966,287) (1060,269) (1163,256) (1276,246) (1400,236) (1537,228) (1686,220)
(249,395) (274,389) (301,384) (330,381) (363,377) (398,371) (437,365) (480,357) (527,348) (578,337) (634,325) (696,313) (764,300) (838,288) (920,275) (1009,259) (1108,243) (1215,232) (1333,222) (1463,214) (1606,206) (1762,200)
};
% Oxygen-16
\addplot[forget plot, only marks, mark=square*, mark size=2.2pt, mark options={draw=cO, fill=cO, line width=0pt}] coordinates {
(59.5,550) (69,555) (124,550) (136.5,544) (155,548) (159,546) (173,543)
(197,540) (205,528) (213,538) (222,524) (231,535) (240,522) (250,532) (262,519) (278,524) (300,512) (318,516) (330,503) (345,512) (360,498) (380,506) (400,488) (428,490) (450,470) (475,474) (500,452) (530,456) (560,440) (595,446) (632,424) (670,428) (710,406) (750,410) (790,390) (824,398) (870,378) (920,382) (970,363) (1020,368) (1066,350) (1120,352) (1180,334) (1240,338) (1300,318) (1377,322) (1440,306) (1500,310) (1574,298)
(215,531) (255,526) (295,518) (350,506) (410,488) (480,466) (560,446) (660,428) (770,402) (900,378) (1040,360) (1200,338) (1400,316) (1530,305)
(228,530) (246,527) (270,523) (290,520) (320,514) (340,509) (370,502) (395,495) (420,485) (445,477) (470,470) (520,456) (545,450) (580,443) (610,437) (650,428) (690,420) (730,411) (770,402) (810,396) (850,389) (895,382) (945,373) (995,366) (1045,360) (1100,353) (1160,345) (1220,338) (1290,330) (1350,321) (1420,315) (1490,309) (1550,305)
(347,310) (740,357)
};
% Neon-20
\addplot[forget plot, only marks, mark=square*, mark size=2.6pt, mark options={draw=cNe, fill=cNe, line width=0pt}] coordinates {
(10.0,800) (12.4,810) (99,790) (131,790) (155,781) (158,782) (162,781) (169,781) (188,780) (237,772) (243,772) (249,771) (258,764) (266,765) (274,764) (282,763) (300,764) (358,745) (370,748) (385,744) (400,746) (415,742) (430,744) (445,740) (460,742) (474,738) (500,722) (520,720) (540,718) (560,716) (580,715) (600,712) (620,710) (632,706) (650,700) (670,696) (690,692) (710,690) (733,686)
(365,746) (378,745) (392,745) (408,744) (422,743) (438,742) (452,741) (467,739) (482,738) (510,721) (530,719) (550,717) (570,715) (590,713) (610,710) (626,707) (642,704) (660,700) (680,696) (700,692) (720,689)
};
\end{axis}
\end{tikzpicture}
\end{document}
